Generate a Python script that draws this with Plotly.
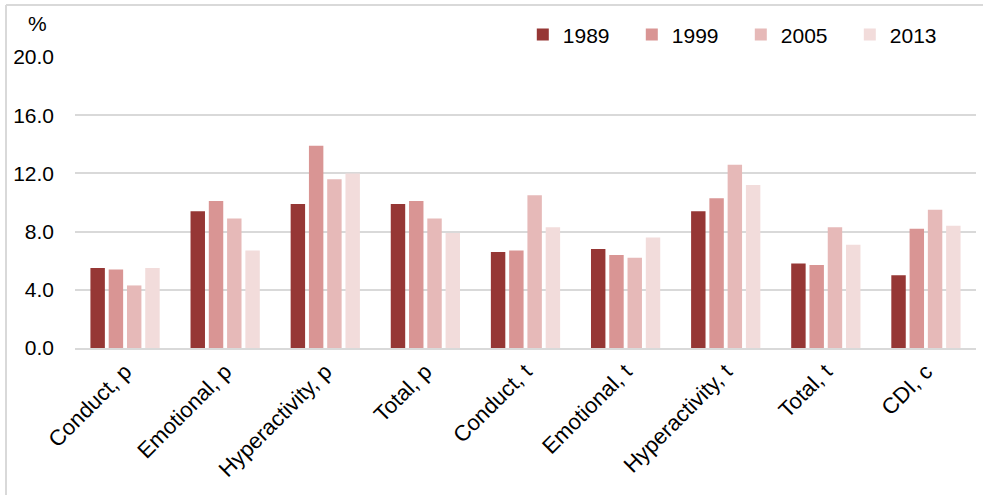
import plotly.graph_objects as go

categories = ["Conduct, p", "Emotional, p", "Hyperactivity, p", "Total, p",
              "Conduct, t", "Emotional, t", "Hyperactivity, t", "Total, t", "CDI, c"]
years = ["1989", "1999", "2005", "2013"]
values_1989 = [5.5, 9.4, 9.9, 9.9, 6.6, 6.8, 9.4, 5.8, 5.0]
values_1999 = [5.4, 10.1, 13.9, 10.1, 6.7, 6.4, 10.3, 5.7, 8.2]
values_2005 = [4.3, 8.9, 11.6, 8.9, 10.5, 6.2, 12.6, 8.3, 9.5]
values_2013 = [5.5, 6.7, 12.0, 7.9, 8.3, 7.6, 11.2, 7.1, 8.4]
y_ticks = [0, 4, 8, 12, 16, 20]

series = [values_1989, values_1999, values_2005, values_2013]
colors = ["#963735", "#D99594", "#E6B9B8", "#F2DCDB"]

FONT = "Liberation Sans, Arial, sans-serif"

fig = go.Figure()
for name, vals, col in zip(years, series, colors):
    fig.add_trace(go.Bar(x=categories, y=vals, name=name,
                         marker=dict(color=col, line=dict(width=0))))

fig.update_layout(
    width=983, height=495,
    margin=dict(l=75, r=7, t=57, b=147),
    paper_bgcolor="white", plot_bgcolor="white",
    barmode="group", bargap=0.27, bargroupgap=0.21,
    font=dict(family=FONT, size=21, color="#000000"),
    showlegend=True,
    legend=dict(orientation="h", x=0.497, xanchor="left", y=1.076, yanchor="middle",
                font=dict(family=FONT, size=21, color="#000000"),
                entrywidth=64, entrywidthmode="pixels",
                bgcolor="rgba(0,0,0,0)", traceorder="normal"),
    xaxis=dict(tickangle=-45, automargin=False, showgrid=False,
               showline=True, linecolor="#D9D9D9", linewidth=2,
               ticks="", tickfont=dict(family=FONT, size=22, color="#000000")),
    yaxis=dict(range=[0, 20], tickvals=y_ticks, tickformat=".1f",
               showgrid=True, gridcolor="#D9D9D9", gridwidth=1.5,
               zeroline=False, showline=False, ticks="",
               ticklabelstandoff=20, automargin=False,
               tickfont=dict(family=FONT, size=21, color="#000000")),
)

# "%" unit label above the value axis
fig.add_annotation(text="%", xref="paper", yref="paper",
                   x=(37 - 75) / 901, y=(348 - 24) / 291,
                   xanchor="center", yanchor="middle", showarrow=False,
                   font=dict(family=FONT, size=21, color="#000000"))

# Chart-area border along the top and left edges
frame = dict(type="line", xref="paper", yref="paper",
             line=dict(color="#D9D9D9", width=2))
fig.add_shape(**frame, x0=(6 - 75) / 901, x1=(990 - 75) / 901,
              y0=(348 - 5) / 291, y1=(348 - 5) / 291)
fig.add_shape(**frame, x0=(6 - 75) / 901, x1=(6 - 75) / 901,
              y0=(348 - 5) / 291, y1=(348 - 500) / 291)

fig.write_html("out.html")
